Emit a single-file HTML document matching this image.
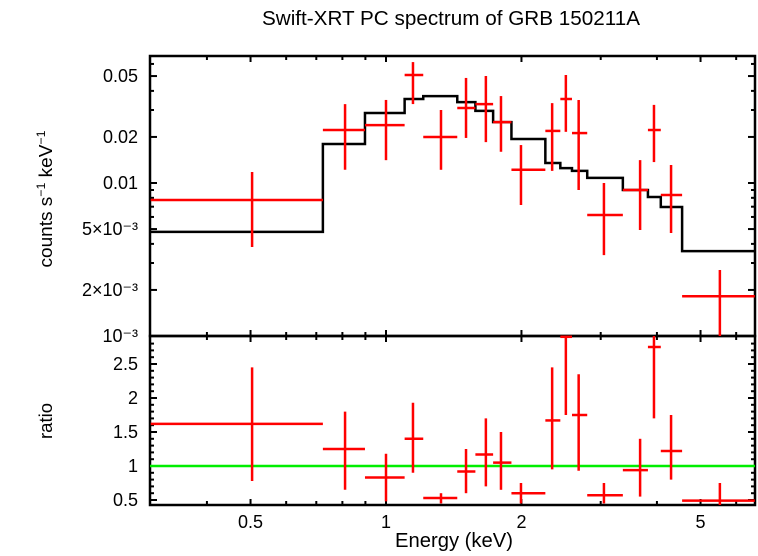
<!DOCTYPE html>
<html><head><meta charset="utf-8">
<style>
body{margin:0;background:#fff;}
svg{display:block;font-family:"Liberation Sans","DejaVu Sans",sans-serif;}
</style></head>
<body>
<svg id="chart" width="758" height="556" viewBox="0 0 758 556" xmlns="http://www.w3.org/2000/svg">
<text x="451" y="25" font-size="20" text-anchor="middle" textLength="378" lengthAdjust="spacingAndGlyphs">Swift-XRT PC spectrum of GRB 150211A</text>
<text transform="translate(52,199) rotate(-90)" font-size="18.5" text-anchor="middle" textLength="137" lengthAdjust="spacingAndGlyphs">counts s<tspan font-size="12" dy="-7">−1</tspan><tspan dy="7"> keV</tspan><tspan font-size="12" dy="-7">−1</tspan></text>
<text transform="translate(52,421) rotate(-90)" font-size="18.5" text-anchor="middle">ratio</text>
<text x="454" y="547" font-size="20" text-anchor="middle" textLength="118" lengthAdjust="spacingAndGlyphs">Energy (keV)</text>
<g id="axes"></g>
<g id="marks"></g>
</svg>
<script>
const binLo=[0.30,0.724,0.898,1.10,1.21,1.44,1.58,1.73,1.90,2.26,2.44,2.59,2.80,3.36,3.82,4.08,4.55];
const binHi=[0.724,0.898,1.10,1.21,1.44,1.58,1.73,1.90,2.26,2.44,2.59,2.80,3.36,3.82,4.08,4.55,6.6];
const binCenter=[0.504,0.811,1.0,1.148,1.325,1.506,1.667,1.801,1.995,2.34,2.51,2.68,3.05,3.67,3.94,4.30,5.52];
const rate=[0.00774,0.0222,0.0239,0.0508,0.020,0.0309,0.0328,0.0250,0.0122,0.0219,0.0354,0.0212,0.00618,0.0090,0.0222,0.00835,0.00182];
const rateLo=[0.00382,0.0122,0.0141,0.0328,0.0122,0.0197,0.0185,0.0160,0.00718,0.0120,0.0216,0.0090,0.00338,0.00493,0.0137,0.00471,0.001];
const rateHi=[0.0118,0.0328,0.0349,0.0617,0.030,0.0486,0.050,0.0370,0.0177,0.0333,0.0508,0.0349,0.0100,0.0141,0.0324,0.0131,0.0027];
const model=[0.00479,0.0180,0.0287,0.0354,0.0370,0.0338,0.0296,0.0250,0.0194,0.0135,0.0125,0.0120,0.0108,0.0090,0.0081,0.00697,0.00359];
const ratio=[1.62,1.25,0.83,1.4,0.53,0.92,1.17,1.05,0.6,1.67,2.9,1.75,0.57,0.94,2.75,1.22,0.49];
const ratioLo=[0.78,0.65,0.48,0.9,0.45,0.6,0.7,0.65,0.45,0.95,1.75,0.93,0.45,0.55,1.7,0.8,0.41];
const ratioHi=[2.45,1.8,1.18,1.93,0.6,1.25,1.7,1.5,0.75,2.45,2.95,2.35,0.75,1.4,2.95,1.75,0.75];
const xTickVals=[0.5,1,2,5];
const xTickLabels=["0.5","1","2","5"];
const xMinorVals=[0.4,0.6,0.7,0.8,0.9,3,4,6];
const topTickVals=[0.05,0.02,0.01,0.005,0.002,0.001];
const topTickLabels=["0.05","0.02","0.01","5×10⁻³","2×10⁻³","10⁻³"];
const topMinorVals=[0.003,0.004,0.006,0.007,0.008,0.009,0.03,0.04,0.06];
const ratioTickVals=[0.5,1,1.5,2,2.5];
const ratioTickLabels=["0.5","1","1.5","2","2.5"];

const L=150,R=755,T=56,M=336,B=505;
const X=e=>386+450*Math.log10(e);
const YT=v=>183-153*(Math.log10(v)+2);
const YB=r=>466-68*(r-1);
const NS="http://www.w3.org/2000/svg";
const axes=document.getElementById('axes'),marks=document.getElementById('marks');
function mk(tag,attrs,parent){const el=document.createElementNS(NS,tag);for(const k in attrs)el.setAttribute(k,attrs[k]);parent.appendChild(el);return el;}
function ln(x1,y1,x2,y2,st,w,parent){return mk('line',{x1,y1,x2,y2,stroke:st,'stroke-width':w},parent);}

let f1=mk('rect',{x:L,y:T,width:R-L,height:M-T,fill:'none',stroke:'#000','stroke-width':2.5},axes);


let f2=mk('rect',{x:L,y:M,width:R-L,height:B-M,fill:'none',stroke:'#000','stroke-width':2.5},axes);



xTickVals.forEach((v,i)=>{const x=X(v);
 [[T,T+6],[M,M-6],[M,M+6],[B,B-6]].forEach(p=>ln(x,p[0],x,p[1],'#000',2,axes));
 const t=mk('text',{x:x,y:528,'font-size':18,'text-anchor':'middle'},axes);t.textContent=xTickLabels[i];
 
 
});
xMinorVals.forEach(v=>{const x=X(v);
 [[T,T+4],[M,M-4],[M,M+4],[B,B-4]].forEach(p=>ln(x,p[0],x,p[1],'#000',2,axes));});
topTickVals.forEach((v,i)=>{const y=YT(v);
 ln(L,y,L+7,y,'#000',2,axes);ln(R,y,R-7,y,'#000',2,axes);
 const t=mk('text',{x:138,y:y+6,'font-size':18,'text-anchor':'end'},axes);t.textContent=topTickLabels[i];
 
 
});
topMinorVals.forEach(v=>{const y=YT(v);ln(L,y,L+4,y,'#000',2,axes);ln(R,y,R-4,y,'#000',2,axes);});
ratioTickVals.forEach((v,i)=>{const y=YB(v);
 ln(L,y,L+7,y,'#000',2,axes);ln(R,y,R-7,y,'#000',2,axes);
 const t=mk('text',{x:138,y:y+6,'font-size':18,'text-anchor':'end'},axes);t.textContent=ratioTickLabels[i];
 
 
});
for(let r=0.5;r<=2.9;r+=0.1){const y=YB(r);ln(L,y,L+4,y,'#000',2,axes);ln(R,y,R-4,y,'#000',2,axes);}

let d='';
model.forEach((m,i)=>{const y=YT(m);d+=(i?'L':'M')+X(binLo[i])+','+y+'L'+X(binHi[i])+','+y;});
let mp=mk('path',{d:d,fill:'none',stroke:'#000','stroke-width':2.5},marks);



let ul=ln(L,YB(1),R,YB(1),'#00ee00',2.5,marks);



rate.forEach((v,i)=>{
 const g=mk('g',{},marks);
 
 
 const x=X(binCenter[i]);
 ln(Math.max(X(binLo[i]),L),YT(v),Math.min(X(binHi[i]),R),YT(v),'#f00',2.5,g);
 ln(x,Math.max(YT(rateHi[i]),T),x,Math.min(YT(rateLo[i]),M),'#f00',2.5,g);
});
ratio.forEach((v,i)=>{
 const g=mk('g',{},marks);
 
 
 const x=X(binCenter[i]);
 ln(Math.max(X(binLo[i]),L),YB(v),Math.min(X(binHi[i]),R),YB(v),'#f00',2.5,g);
 ln(x,Math.max(YB(ratioHi[i]),M),x,Math.min(YB(ratioLo[i]),B),'#f00',2.5,g);
});
</script>
</body></html>
